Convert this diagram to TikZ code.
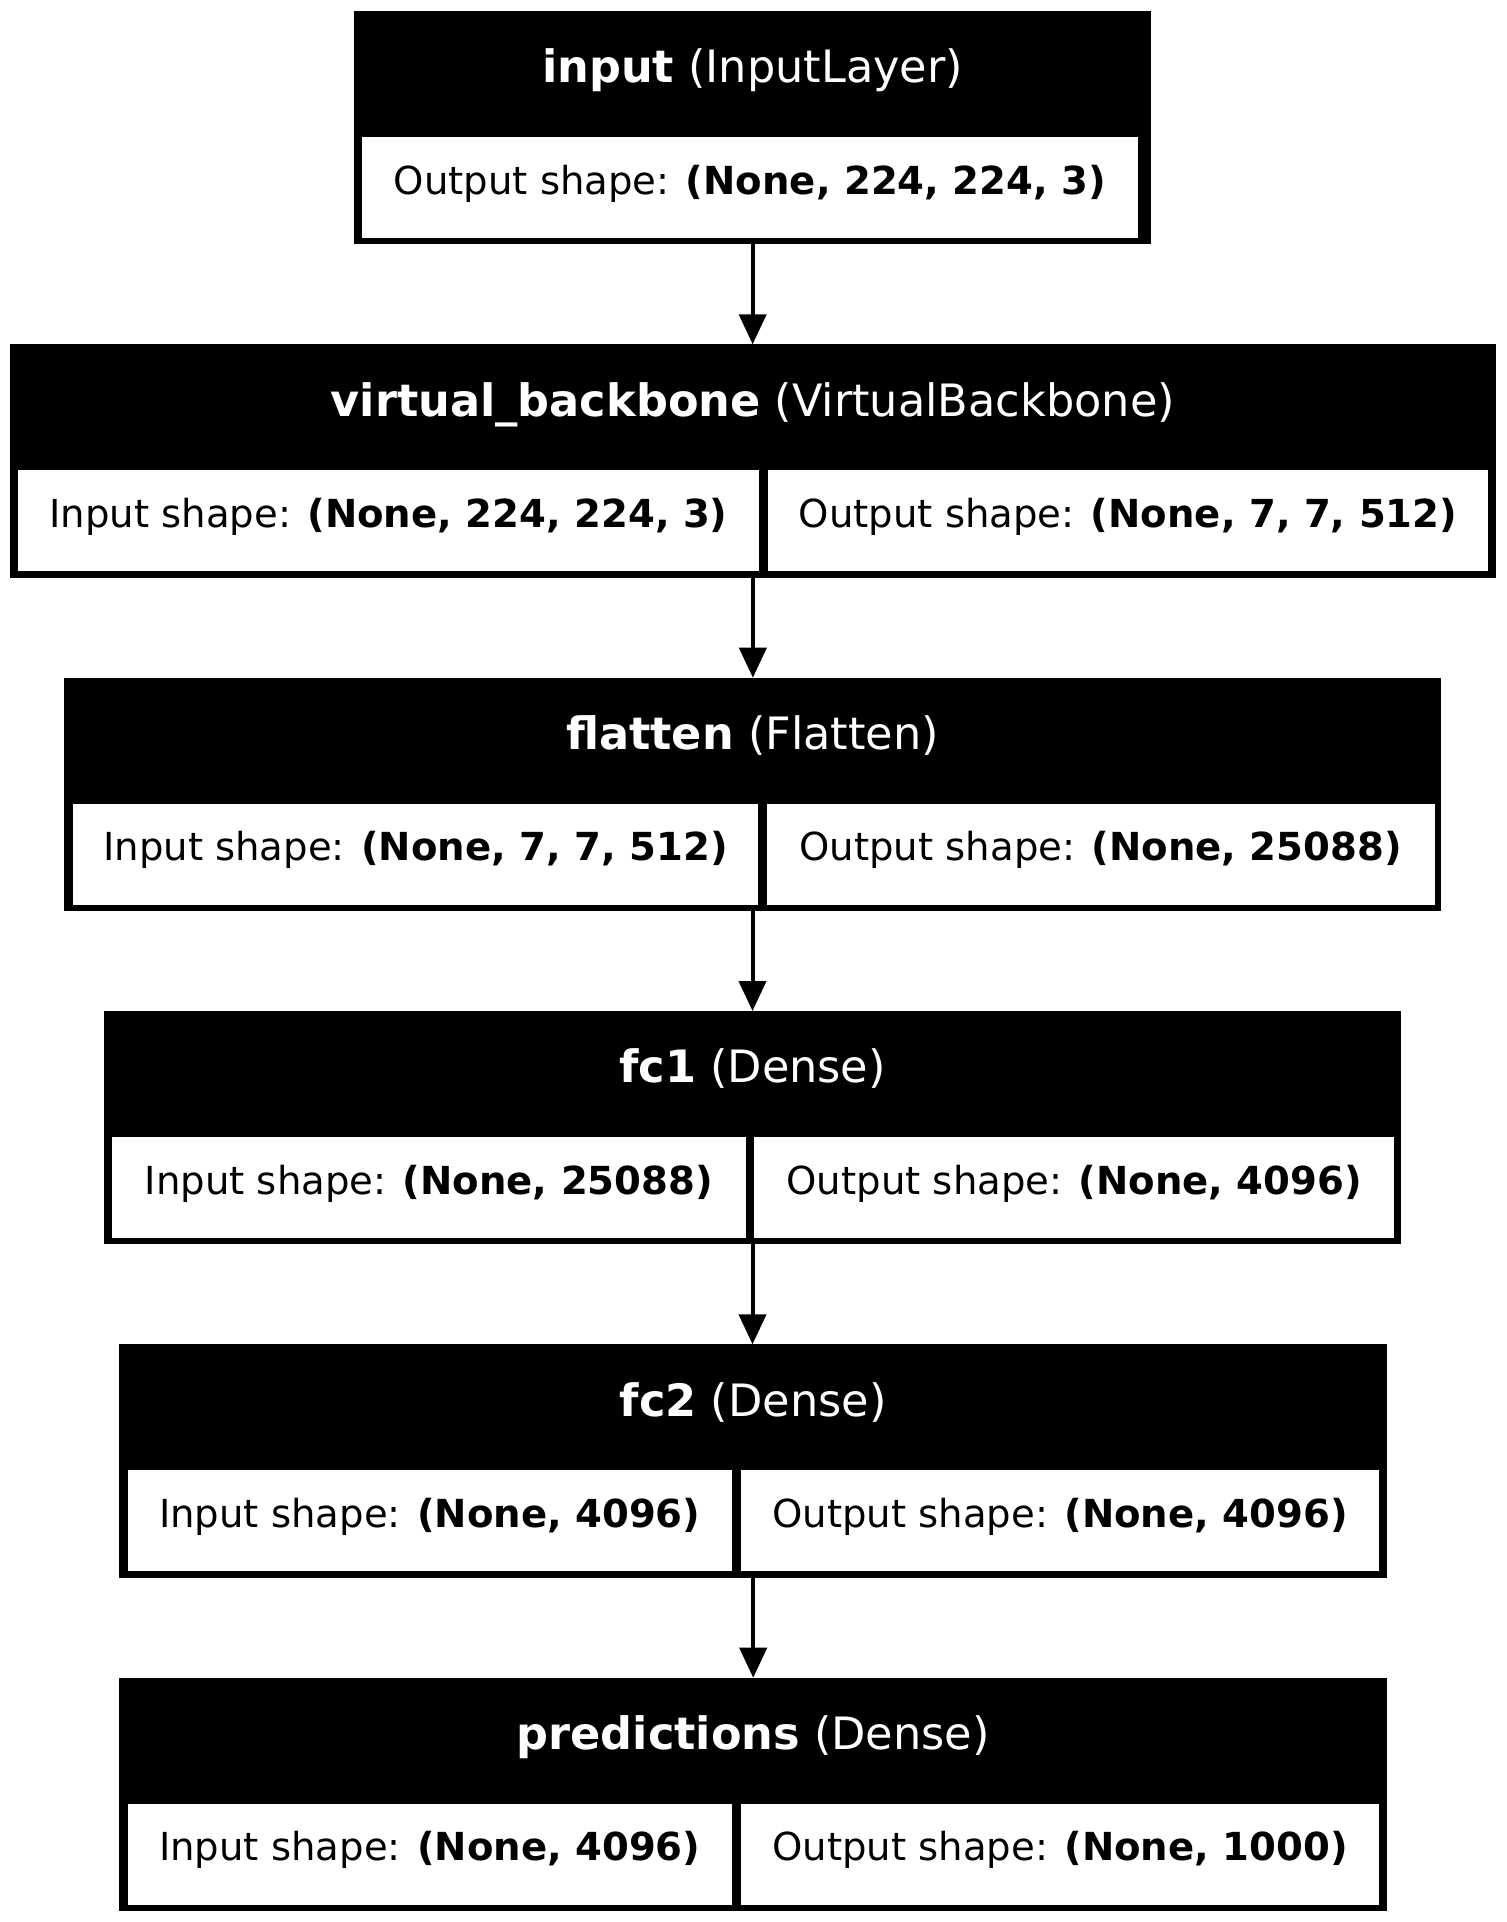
\documentclass[tikz,border=0pt]{standalone}
\usepackage{fontspec}
\setmainfont{DejaVu Sans}
\usetikzlibrary{fit,arrows.meta}
\begin{document}
\begin{tikzpicture}[x=0.5pt,y=-0.5pt,
  box/.style={fill=black, draw=none, inner sep=0pt, outer sep=0pt},
  cellbox/.style={fill=white, draw=none, inner sep=0pt, outer sep=0pt},
  hdr/.style={text=white, font=\fontsize{22.3pt}{26pt}\selectfont, inner sep=0pt, anchor=base},
  celltext/.style={text=black, font=\fontsize{19.3pt}{23pt}\selectfont, inner sep=0pt, anchor=base},
  flow/.style={line width=2pt, -{Triangle[length=15pt,width=13.5pt]}}]
\useasboundingbox (0,0) rectangle (1506,1922);

% input
\node[box, fit={(354,11) (1151.3,244.3)}] (input) {};
\node[cellbox, fit={(362,137) (1137.7,238)}] (inputout) {};
\node[hdr] (inputhdr) at (752.65,82.7) {\textbf{input} (InputLayer)};
\node[celltext] (inputouttxt) at (749.85,194) {Output shape: \textbf{(None, 224, 224, 3)}};

% virtual_backbone
\node[box, fit={(9.7,344.3) (1496,577.6)}] (vb) {};
\node[cellbox, fit={(17.7,470.3) (759.3,571.3)}] (vbin) {};
\node[cellbox, fit={(768.3,470.3) (1487.7,571.3)}] (vbout) {};
\node[hdr] (vbhdr) at (752.85,416) {\textbf{virtual\_backbone} (VirtualBackbone)};
\node[celltext] (vbintxt) at (388.5,527.3) {Input shape: \textbf{(None, 224, 224, 3)}};
\node[celltext] (vbouttxt) at (1128,527.3) {Output shape: \textbf{(None, 7, 7, 512)}};

% flatten
\node[box, fit={(63.7,677.7) (1441.3,911)}] (flatten) {};
\node[cellbox, fit={(72.5,803.7) (758.3,904.7)}] (flin) {};
\node[cellbox, fit={(766.5,803.7) (1434.7,904.7)}] (flout) {};
\node[hdr] (flhdr) at (752.5,749.4) {\textbf{flatten} (Flatten)};
\node[celltext] (flintxt) at (415.4,860.7) {Input shape: \textbf{(None, 7, 7, 512)}};
\node[celltext] (flouttxt) at (1100.6,860.7) {Output shape: \textbf{(None, 25088)}};

% fc1
\node[box, fit={(103.7,1011) (1401.3,1244.3)}] (fc1) {};
\node[cellbox, fit={(112,1137) (745.7,1238)}] (fc1in) {};
\node[cellbox, fit={(754.3,1137) (1394.3,1238)}] (fc1out) {};
\node[hdr] (fc1hdr) at (752.5,1082.7) {\textbf{fc1} (Dense)};
\node[celltext] (fc1intxt) at (428.85,1194) {Input shape: \textbf{(None, 25088)}};
\node[celltext] (fc1outtxt) at (1074.3,1194) {Output shape: \textbf{(None, 4096)}};

% fc2
\node[box, fit={(119.1,1344.3) (1387.3,1577.6)}] (fc2) {};
\node[cellbox, fit={(127.5,1470.3) (732,1571.3)}] (fc2in) {};
\node[cellbox, fit={(740.7,1470.3) (1379.3,1571.3)}] (fc2out) {};
\node[hdr] (fc2hdr) at (753.2,1416) {\textbf{fc2} (Dense)};
\node[celltext] (fc2intxt) at (429.75,1527.3) {Input shape: \textbf{(None, 4096)}};
\node[celltext] (fc2outtxt) at (1060,1527.3) {Output shape: \textbf{(None, 4096)}};

% predictions
\node[box, fit={(119.1,1677.7) (1387.3,1911)}] (pred) {};
\node[cellbox, fit={(127.5,1803.7) (732,1904.7)}] (predin) {};
\node[cellbox, fit={(740.7,1803.7) (1379.3,1904.7)}] (predout) {};
\node[hdr] (predhdr) at (753.2,1749.4) {\textbf{predictions} (Dense)};
\node[celltext] (predintxt) at (429.75,1860.7) {Input shape: \textbf{(None, 4096)}};
\node[celltext] (predouttxt) at (1060,1860.7) {Output shape: \textbf{(None, 1000)}};

% connectors
\draw[flow] (input.south) -- (input.south |- vb.north);
\draw[flow] (vb.south) -- (vb.south |- flatten.north);
\draw[flow] (flatten.south) -- (flatten.south |- fc1.north);
\draw[flow] (fc1.south) -- (fc1.south |- fc2.north);
\draw[flow] (fc2.south) -- (fc2.south |- pred.north);
\end{tikzpicture}
\end{document}
